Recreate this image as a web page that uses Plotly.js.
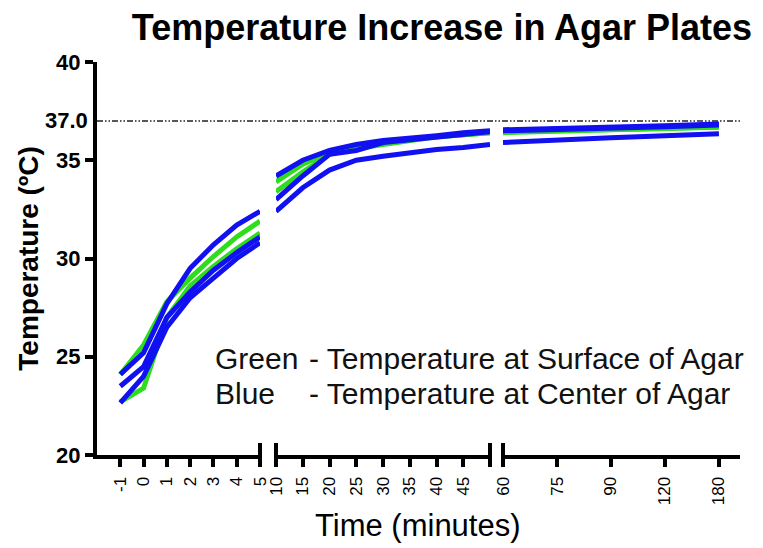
<!DOCTYPE html>
<html>
<head>
<meta charset="utf-8">
<script src="https://cdn.plot.ly/plotly-3.0.1.min.js"></script>
<style>html,body{margin:0;padding:0;background:#fff;}#chart{width:763px;height:548px;}</style>
</head>
<body>
<div id="chart"></div>
<script>
// ---- Data ----
const timeEarly = [-1, 0, 1, 2, 3, 4, 5];
const timeMid = [10, 15, 20, 25, 30, 35, 40, 45, 50];
const timeLate = ["60", "75", "90", "120", "180"];

const midTickVals = [10, 15, 20, 25, 30, 35, 40, 45];
const yTickVals = [20, 25, 30, 35, 40];
const targetTemp = 37.0;

// Green = surface of agar
const green1Early = [24.1, 25.6, 27.8, 29.0, 30.1, 31.1, 31.9];
const green1Mid = [33.9, 34.8, 35.4, 35.7, 35.9, 36.1, 36.2, 36.3, 36.4];
const green1Late = [36.4, 36.5, 36.55, 36.62, 36.7];

const green2Early = [22.7, 23.4, 27.0, 28.6, 29.6, 30.5, 31.3];
const green2Mid = [33.4, 34.4, 35.3, 35.6, 35.8, 36.0, 36.2, 36.3, 36.4];
const green2Late = [36.45, 36.5, 36.55, 36.6, 36.68];

// Blue = center of agar
const blue1Early = [24.1, 25.2, 27.7, 29.5, 30.7, 31.7, 32.4];
const blue1Mid = [34.2, 35.0, 35.5, 35.8, 36.0, 36.1, 36.25, 36.4, 36.5];
const blue1Late = [36.55, 36.6, 36.7, 36.75, 36.85];

const blue2Early = [23.5, 24.5, 27.0, 28.3, 29.4, 30.3, 31.1];
const blue2Mid = [33.0, 34.2, 35.3, 35.5, 35.9, 36.05, 36.2, 36.3, 36.45];
const blue2Late = [36.5, 36.55, 36.65, 36.7, 36.8];

const blue3Early = [22.65, 24.0, 26.5, 28.0, 29.0, 30.0, 30.8];
const blue3Mid = [32.4, 33.6, 34.5, 35.0, 35.2, 35.4, 35.55, 35.65, 35.8];
const blue3Late = [35.9, 36.05, 36.15, 36.25, 36.35];

const greenColor = "#2fdc1e";
const blueColor = "#1010f0";

const series = [
  {c: greenColor, e: green1Early, m: green1Mid, l: green1Late},
  {c: greenColor, e: green2Early, m: green2Mid, l: green2Late},
  {c: blueColor, e: blue1Early, m: blue1Mid, l: blue1Late},
  {c: blueColor, e: blue2Early, m: blue2Mid, l: blue2Late},
  {c: blueColor, e: blue3Early, m: blue3Mid, l: blue3Late}
];

const traces = [];
series.forEach(s => {
  const ln = {color: s.c, width: 5};
  traces.push({x: timeEarly, y: s.e, xaxis: "x", yaxis: "y", mode: "lines", line: ln, showlegend: false, hoverinfo: "skip"});
  traces.push({x: timeMid, y: s.m, xaxis: "x2", yaxis: "y", mode: "lines", line: ln, showlegend: false, hoverinfo: "skip"});
  traces.push({x: timeLate, y: s.l, xaxis: "x3", yaxis: "y", mode: "lines", line: ln, showlegend: false, hoverinfo: "skip"});
});

const W = 763, H = 548;
const L = 97, R = 740, T = 62, B = 455;
const pw = R - L, ph = B - T;
const px = v => (v - L) / pw;
const py = v => (B - v) / ph;
const FONT = "Liberation Sans, Arial, sans-serif";

const axisCommon = {
  showline: true, linewidth: 4, linecolor: "#000",
  ticks: "outside", ticklen: 8, tickwidth: 4, tickcolor: "#000",
  tickangle: -90, showgrid: false, zeroline: false,
  ticklabelstandoff: 3,
  tickfont: {family: FONT, size: 17, color: "#000"},
  anchor: "y", fixedrange: true
};

const breakY0 = -12 / ph, breakY1 = 12 / ph;
const breaks = [260, 276, 490, 503].map(xp => ({
  type: "line", xref: "paper", yref: "paper",
  x0: px(xp), x1: px(xp), y0: breakY0, y1: breakY1,
  line: {color: "#000", width: 4}
}));

const legendFont = {family: FONT, size: 30, color: "#111"};

const layout = {
  width: W, height: H,
  margin: {l: L, r: W - R, t: T, b: H - B},
  paper_bgcolor: "#fff", plot_bgcolor: "#fff",
  title: {
    text: "<b>Temperature Increase in Agar Plates</b>",
    font: {family: FONT, size: 36, color: "#000"},
    x: 442 / W, xref: "container", xanchor: "center",
    y: 1 - 27 / H, yref: "container", yanchor: "middle"
  },
  xaxis: Object.assign({}, axisCommon, {
    domain: [0, px(260)], range: [-2, 5],
    tickmode: "array", tickvals: timeEarly, ticktext: timeEarly.map(String)
  }),
  xaxis2: Object.assign({}, axisCommon, {
    domain: [px(276), px(490)], range: [10, 50],
    tickmode: "array", tickvals: midTickVals, ticktext: midTickVals.map(String)
  }),
  xaxis3: Object.assign({}, axisCommon, {
    type: "category", categoryorder: "array", categoryarray: timeLate,
    domain: [px(503), 1], range: [0, 4.39]
  }),
  yaxis: {
    domain: [0, 1], range: [20, 40],
    showline: true, linewidth: 4, linecolor: "#000",
    ticks: "outside", ticklen: 8, tickwidth: 4, tickcolor: "#000",
    tickmode: "array", tickvals: yTickVals, ticktext: yTickVals.map(v => "<b>" + v + "</b>"),
    tickfont: {family: FONT, size: 22, color: "#000"},
    showgrid: false, zeroline: false, fixedrange: true,
    title: {
      text: "<b>Temperature (ºC)</b>",
      font: {family: FONT, size: 28, color: "#000"},
      standoff: 10
    }
  },
  shapes: [
    {type: "line", xref: "paper", yref: "y", x0: 0, x1: 1, y0: targetTemp, y1: targetTemp,
     line: {color: "#222", width: 1.5, dash: "6px,2px,1.5px,2px,1.5px,2px"}}
  ].concat(breaks),
  annotations: [
    {xref: "paper", yref: "y", x: 0, y: targetTemp, xanchor: "right", yanchor: "middle", xshift: -7,
     text: "<b>" + targetTemp.toFixed(1) + "</b>", showarrow: false,
     font: {family: FONT, size: 22, color: "#000"}},
    {xref: "paper", yref: "paper", x: px(418), y: py(525), xanchor: "center", yanchor: "middle",
     text: "Time (minutes)", showarrow: false, font: {family: FONT, size: 31, color: "#000"}},
    {xref: "paper", yref: "paper", x: px(213), y: py(358), xanchor: "left", yanchor: "middle",
     text: "Green", showarrow: false, font: legendFont},
    {xref: "paper", yref: "paper", x: px(213), y: py(393), xanchor: "left", yanchor: "middle",
     text: "Blue", showarrow: false, font: legendFont},
    {xref: "paper", yref: "paper", x: px(307), y: py(358), xanchor: "left", yanchor: "middle",
     text: "- Temperature at Surface of Agar", showarrow: false, font: legendFont},
    {xref: "paper", yref: "paper", x: px(307), y: py(393), xanchor: "left", yanchor: "middle",
     text: "- Temperature at Center of Agar", showarrow: false, font: legendFont}
  ]
};

Plotly.newPlot("chart", traces, layout, {displayModeBar: false, staticPlot: true});
</script>
</body>
</html>
